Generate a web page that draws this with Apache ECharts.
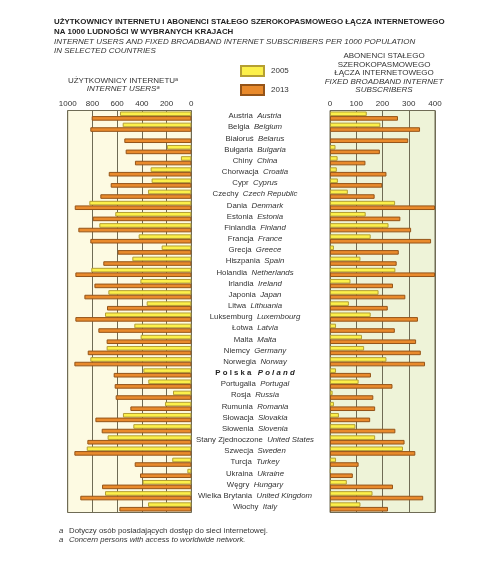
<!DOCTYPE html>
<html>
<head>
<meta charset="utf-8">
<script src="https://cdn.jsdelivr.net/npm/echarts@6/dist/echarts.min.js"></script>
<style>
  html, body { margin: 0; padding: 0; background: #fff; }
  #main { width: 500px; height: 586px; }
</style>
</head>
<body>
<div id="main"></div>
<script>
// kraje (PL / EN)
var countriesPl = ['Austria','Belgia','Białoruś','Bułgaria','Chiny','Chorwacja','Cypr','Czechy','Dania','Estonia',
  'Finlandia','Francja','Grecja','Hiszpania','Holandia','Irlandia','Japonia','Litwa','Luksemburg','Łotwa',
  'Malta','Niemcy','Norwegia','Polska','Portugalia','Rosja','Rumunia','Słowacja','Słowenia','Stany Zjednoczone',
  'Szwecja','Turcja','Ukraina','Węgry','Wielka Brytania','Włochy'];
var countriesEn = ['Austria','Belgium','Belarus','Bulgaria','China','Croatia','Cyprus','Czech Republic','Denmark','Estonia',
  'Finland','France','Greece','Spain','Netherlands','Ireland','Japan','Lithuania','Luxembourg','Latvia',
  'Malta','Germany','Norway','Poland','Portugal','Russia','Romania','Slovakia','Slovenia','United States',
  'Sweden','Turkey','Ukraine','Hungary','United Kingdom','Italy'];

// użytkownicy internetu na 1000 ludności
var users2005 = [577,555,null,197,84,329,321,350,825,615,744,426,240,477,809,412,671,361,698,461,
  410,685,817,388,348,148,213,553,469,677,846,154,32,394,698,350];
var users2013 = [806,817,542,531,456,668,652,736,943,798,914,817,596,712,938,784,865,682,938,752,
  685,838,946,628,620,612,493,776,725,841,946,458,415,722,898,582];

// abonenci stałego łącza szerokopasmowego na 1000 ludności
var broad2005 = [140,192,null,21,29,26,30,68,248,136,223,155,15,116,249,78,185,72,155,23,
  122,130,215,23,109,10,15,34,97,172,278,23,3,64,162,116];
var broad2013 = [259,343,298,190,135,215,199,170,400,268,309,385,262,254,400,240,287,220,335,247,
  328,346,362,156,238,165,172,153,249,284,325,109,87,240,355,221];

var leftTicks = [0,200,400,600,800,1000];
var rightTicks = [0,100,200,300,400];

var FONT = 'Liberation Sans';
var yellow = { color: '#fcf04a', borderColor: '#b59f32', borderWidth: 1 };
var orange = { color: '#e98a2c', borderColor: '#955418', borderWidth: 1 };
var gridLine = { show: true, lineStyle: { color: '#6f6b55', width: 1 } };

var myChart = echarts.init(document.getElementById('main'));

var option = {
    backgroundColor: '#fff',
    textStyle: { fontFamily: FONT },
    animation: false,
    legend: {
        orient: 'vertical',
        left: 240, top: 65, padding: 0,
        icon: 'rect',
        itemWidth: 23, itemHeight: 10, itemGap: 7,
        textStyle: { fontSize: 8, color: '#333', fontFamily: FONT, padding: [0, 0, 0, 2] },
        data: ['2005','2013']
    },
    grid: [
        { left: 67.7, width: 123.6, top: 110.5, height: 402, show: true, backgroundColor: '#fdfae2', borderColor: '#6f6b55', borderWidth: 1 },
        { left: 330, width: 105, top: 110.5, height: 402, show: true, backgroundColor: '#eef3d8', borderColor: '#6f6b55', borderWidth: 1 }
    ],
    xAxis: [
        { gridIndex: 0, type: 'value', position: 'top', inverse: true, min: 0, max: 1000, interval: 200,
          axisLine: { show: false }, axisTick: { show: false }, splitLine: gridLine,
          axisLabel: { fontSize: 8, color: '#333', margin: 3, fontFamily: FONT,
            formatter: function (v) { return leftTicks.indexOf(v) >= 0 ? v : ''; } } },
        { gridIndex: 1, type: 'value', position: 'top', min: 0, max: 400, interval: 100,
          axisLine: { show: false }, axisTick: { show: false }, splitLine: gridLine,
          axisLabel: { fontSize: 8, color: '#333', margin: 3, fontFamily: FONT,
            formatter: function (v) { return rightTicks.indexOf(v) >= 0 ? v : ''; } } }
    ],
    yAxis: [
        { gridIndex: 0, type: 'category', data: countriesPl, inverse: true, position: 'right',
          axisLine: { show: false }, axisTick: { show: false }, axisLabel: { show: false } },
        { gridIndex: 1, type: 'category', data: countriesPl, inverse: true, position: 'left',
          axisLine: { show: false }, axisTick: { show: false },
          axisLabel: { align: 'center', margin: 75, fontSize: 7.8, color: '#333', fontFamily: FONT,
            formatter: function (v, i) {
                if (v === 'Polska') return '{pb|P o l s k a}   {eb|P o l a n d}';
                return '{pl|' + v + '}  {en|' + countriesEn[i] + '}';
            },
            rich: {
                pl: { fontSize: 7.8, color: '#333', fontFamily: FONT },
                en: { fontSize: 7.8, color: '#333', fontStyle: 'italic', fontFamily: FONT },
                pb: { fontSize: 7.8, color: '#222', fontWeight: 'bold', fontFamily: FONT },
                eb: { fontSize: 7.8, color: '#222', fontWeight: 'bold', fontStyle: 'italic', fontFamily: FONT }
            } } }
    ],
    series: [
        { name: '2005', type: 'bar', xAxisIndex: 0, yAxisIndex: 0, data: users2005, barWidth: 4.6, barGap: '0%', itemStyle: yellow },
        { name: '2013', type: 'bar', xAxisIndex: 0, yAxisIndex: 0, data: users2013, barWidth: 4.6, barGap: '0%', itemStyle: orange },
        { name: '2005', type: 'bar', xAxisIndex: 1, yAxisIndex: 1, data: broad2005, barWidth: 4.6, barGap: '0%', itemStyle: yellow },
        { name: '2013', type: 'bar', xAxisIndex: 1, yAxisIndex: 1, data: broad2013, barWidth: 4.6, barGap: '0%', itemStyle: orange }
    ],
    graphic: [
        { type: 'text', left: 54, top: 18, style: { text: 'UŻYTKOWNICY INTERNETU I ABONENCI STAŁEGO SZEROKOPASMOWEGO ŁĄCZA INTERNETOWEGO', font: 'bold 7.9px ' + FONT, fill: '#222' } },
        { type: 'text', left: 54, top: 28, style: { text: 'NA 1000 LUDNOŚCI W WYBRANYCH KRAJACH', font: 'bold 7.9px ' + FONT, fill: '#222' } },
        { type: 'text', left: 54, top: 38, style: { text: 'INTERNET USERS AND FIXED BROADBAND INTERNET SUBSCRIBERS PER 1000 POPULATION', font: 'italic 8px ' + FONT, fill: '#333' } },
        { type: 'text', left: 54, top: 47, style: { text: 'IN SELECTED COUNTRIES', font: 'italic 8px ' + FONT, fill: '#333' } },

        { type: 'text', x: 123, y: 76.5, style: { text: 'UŻYTKOWNICY INTERNETU\u1d43', font: '8px ' + FONT, fill: '#333', align: 'center' } },
        { type: 'text', x: 123, y: 85, style: { text: 'INTERNET USERS\u1d43', font: 'italic 8px ' + FONT, fill: '#333', align: 'center' } },

        { type: 'text', x: 384, y: 52, style: { text: 'ABONENCI STAŁEGO\nSZEROKOPASMOWEGO\nŁĄCZA INTERNETOWEGO', font: '8px ' + FONT, fill: '#333', align: 'center', lineHeight: 8.4 } },
        { type: 'text', x: 384, y: 77.5, style: { text: 'FIXED BROADBAND INTERNET\nSUBSCRIBERS', font: 'italic 8px ' + FONT, fill: '#333', align: 'center', lineHeight: 8.4 } },

        { type: 'text', left: 59, top: 527, style: { text: 'a', font: 'italic 7.7px ' + FONT, fill: '#333' } },
        { type: 'text', left: 69, top: 527, style: { text: 'Dotyczy osób posiadających dostęp do sieci internetowej.', font: '7.8px ' + FONT, fill: '#333' } },
        { type: 'text', left: 59, top: 536, style: { text: 'a', font: 'italic 7.7px ' + FONT, fill: '#333' } },
        { type: 'text', left: 69, top: 536, style: { text: 'Concern persons with access to worldwide network.', font: 'italic 7.7px ' + FONT, fill: '#333' } }
    ]
};

myChart.setOption(option);
</script>
</body>
</html>
